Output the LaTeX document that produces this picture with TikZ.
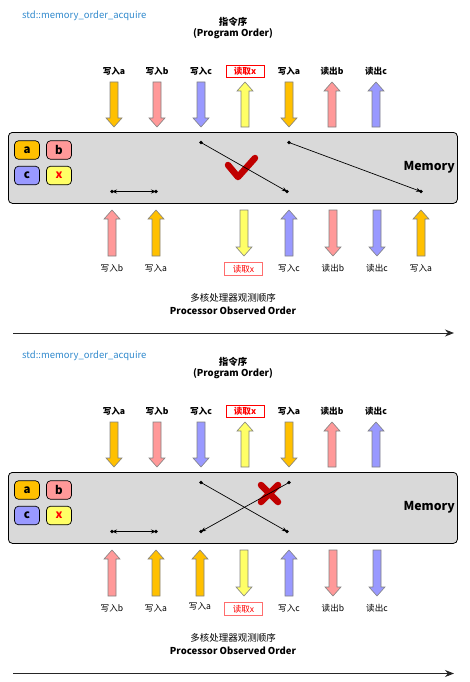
\documentclass[tikz,border=0pt]{standalone}
\usepackage{fontspec}
\setmainfont{Noto Sans CJK SC}
\usetikzlibrary{arrows.meta}
\definecolor{ca}{RGB}{255,192,0}
\definecolor{cb}{RGB}{255,153,153}
\definecolor{cc}{RGB}{153,153,255}
\definecolor{cx}{RGB}{255,255,102}
\definecolor{memfill}{RGB}{217,217,217}
\definecolor{titleblue}{RGB}{50,138,205}
\definecolor{markred}{RGB}{192,0,0}
\definecolor{boxred}{RGB}{255,0,0}
\definecolor{boxpink}{RGB}{255,110,110}
\definecolor{arrline}{RGB}{130,130,130}
% down arrow: x, ytop, ybottom, colour
\newcommand\darr[4]{\path[blockarr, fill=#4] (#1-4,#2) -- (#1+4,#2) -- (#1+4,#3-9) -- (#1+8,#3-9) -- (#1,#3) -- (#1-8,#3-9) -- (#1-4,#3-9) -- cycle;}
% up arrow: x, ytop, ybottom, colour
\newcommand\uarr[4]{\path[blockarr, fill=#4] (#1,#2) -- (#1+8,#2+9) -- (#1+4,#2+9) -- (#1+4,#3) -- (#1-4,#3) -- (#1-4,#2+9) -- (#1-8,#2+9) -- cycle;}
\tikzset{
  blockarr/.style={draw=arrline, line width=0.6pt, line join=miter},
  lab/.style={font=\fontsize{8.6}{10}\selectfont, inner sep=0pt},
  labbold/.style={lab, font=\bfseries\fontsize{8.6}{10}\selectfont},
  xlabtop/.style={labbold, text=boxred, draw=boxred, fill=white, line width=0.7pt, minimum width=38pt, minimum height=12.5pt},
  xlabbot/.style={lab, text=boxred, draw=boxpink, fill=white, line width=0.7pt, minimum width=38pt, minimum height=12.5pt},
  ttl/.style={font=\bfseries\fontsize{9.5}{11}\selectfont, inner sep=0pt},
  ttlreg/.style={font=\fontsize{9.5}{11}\selectfont, inner sep=0pt},
  std/.style={font=\fontsize{9.5}{11}\selectfont, text=titleblue, inner sep=0pt, anchor=west},
  membox/.style={draw=black, line width=0.8pt, fill=memfill, rounded corners=4pt, minimum width=449pt, minimum height=71pt, anchor=north west, inner sep=0pt},
  varbox/.style={draw=black, line width=0.7pt, rounded corners=4pt, minimum width=25pt, minimum height=18.5pt, inner sep=0pt, font=\bfseries\fontsize{11.5}{13}\selectfont},
  memlbl/.style={font=\bfseries\fontsize{12.3}{14}\selectfont, anchor=east, inner sep=0pt},
  conn/.style={line width=0.7pt, -{Stealth[length=5pt,width=4pt]}},
  dconn/.style={line width=0.7pt, {Stealth[length=5pt,width=4pt]}-{Stealth[length=5pt,width=4pt]}},
  dotfill/.style={fill=black},
  redmark/.style={draw=markred, line width=6.5pt, line cap=round, line join=round},
  timeline/.style={line width=1pt, draw=black!85, -{Stealth[length=9pt,width=7pt]}}
}
\begin{document}
\begin{tikzpicture}[x=1pt,y=-1pt]
\useasboundingbox (0,0) rectangle (469,682);
% ======================= first diagram =======================
\begin{scope}
\node[std] (s1) at (22,16) {std::memory\_order\_acquire};
\node[ttl] (t1a) at (233,21.5) {指令序};
\node[ttl] (t1b) at (233,33.5) {(Program Order)};
% program order labels
\node[labbold] (l1a) at (114,71.5) {写入a};
\node[labbold] (l1b) at (157,71.5) {写入b};
\node[labbold] (l1c) at (201,71.5) {写入c};
\node[xlabtop] (l1x) at (245,71.5) {读取x};
\node[labbold] (l1d) at (289,71.5) {写入a};
\node[labbold] (l1e) at (332,71.5) {读出b};
\node[labbold] (l1f) at (376,71.5) {读出c};
% program order arrows
\darr{114}{82}{127}{ca}
\darr{157}{82}{127}{cb}
\darr{201}{82}{127}{cc}
\uarr{245}{82}{127}{cx}
\darr{289}{82}{127}{ca}
\uarr{332}{82}{127}{cb}
\uarr{376}{82}{127}{cc}
% memory
\node[membox] (m1) at (8,132) {};
\node[varbox, fill=ca] (m1a) at (27,150) {a};
\node[varbox, fill=cb] (m1b) at (59,150) {b};
\node[varbox, fill=cc] (m1c) at (27,175.5) {c};
\node[varbox, fill=cx, text=boxred] (m1x) at (59,175.5) {x};
\node[memlbl] (m1l) at (455,167.5) {Memory};
\draw[redmark] (228,165) -- (238,177) -- (255,158);
\coordinate (p1) at (112,191.5);
\coordinate (p2) at (156,191.5);
\coordinate (q1) at (201,142.5);
\coordinate (q2) at (287,191.5);
\coordinate (r1) at (289,142.5);
\coordinate (r2) at (421,191.5);
\draw[dconn] (p1) -- (p2);
\draw[conn] (q1) -- (q2);
\draw[conn] (r1) -- (r2);
\foreach \c in {p1,p2,q1,q2,r1,r2} \fill[dotfill] (\c) circle (1.8pt);
% observed order arrows
\uarr{112}{210}{256}{cb}
\uarr{156}{210}{256}{ca}
\darr{244}{210}{256}{cx}
\uarr{289}{210}{256}{cc}
\darr{333}{210}{256}{cb}
\darr{377}{210}{256}{cc}
\uarr{421}{210}{256}{ca}
\node[lab] (o1a) at (112,268) {写入b};
\node[lab] (o1b) at (156,268) {写入a};
\node[xlabbot] (o1x) at (243.5,269) {读取x};
\node[lab] (o1c) at (289,268) {写入c};
\node[lab] (o1d) at (333,268) {读出b};
\node[lab] (o1e) at (377,268) {读出c};
\node[lab] (o1f) at (421,268) {写入a};
\node[ttlreg] (b1a) at (233,298) {多核处理器观测顺序};
\node[ttl] (b1b) at (233,311) {Processor Observed Order};
\coordinate (tl1s) at (13,333);
\coordinate (tl1e) at (454,333);
\draw[timeline] (tl1s) -- (tl1e);
\end{scope}
% ======================= second diagram =======================
\begin{scope}[shift={(0,340)}]
\node[std] (s2) at (22,16) {std::memory\_order\_acquire};
\node[ttl] (t2a) at (233,21.5) {指令序};
\node[ttl] (t2b) at (233,33.5) {(Program Order)};
\node[labbold] (l2a) at (114,71.5) {写入a};
\node[labbold] (l2b) at (157,71.5) {写入b};
\node[labbold] (l2c) at (201,71.5) {写入c};
\node[xlabtop] (l2x) at (245,71.5) {读取x};
\node[labbold] (l2d) at (289,71.5) {写入a};
\node[labbold] (l2e) at (332,71.5) {读出b};
\node[labbold] (l2f) at (376,71.5) {读出c};
\darr{114}{82}{127}{ca}
\darr{157}{82}{127}{cb}
\darr{201}{82}{127}{cc}
\uarr{245}{82}{127}{cx}
\darr{289}{82}{127}{ca}
\uarr{332}{82}{127}{cb}
\uarr{376}{82}{127}{cc}
\node[membox] (m2) at (8,132) {};
\node[varbox, fill=ca] (m2a) at (27,150) {a};
\node[varbox, fill=cb] (m2b) at (59,150) {b};
\node[varbox, fill=cc] (m2c) at (27,175.5) {c};
\node[varbox, fill=cx, text=boxred] (m2x) at (59,175.5) {x};
\node[memlbl] (m2l) at (455,167.5) {Memory};
\draw[redmark] (261,145) -- (278,162) (278,145) -- (261,162);
\coordinate (u1) at (112,191.5);
\coordinate (u2) at (156,191.5);
\coordinate (v1) at (201,142.5);
\coordinate (v2) at (287,191.5);
\coordinate (w1) at (289,142.5);
\coordinate (w2) at (201,191.5);
\draw[dconn] (u1) -- (u2);
\draw[conn] (v1) -- (v2);
\draw[conn] (w1) -- (w2);
\foreach \c in {u1,u2,v1,v2,w1,w2} \fill[dotfill] (\c) circle (1.8pt);
\uarr{112}{210}{256}{cb}
\uarr{156}{210}{256}{ca}
\uarr{200}{210}{256}{ca}
\darr{244}{210}{256}{cx}
\uarr{289}{210}{256}{cc}
\darr{333}{210}{256}{cb}
\darr{377}{210}{256}{cc}
\node[lab] (o2a) at (112,268) {写入b};
\node[lab] (o2b) at (156,268) {写入a};
\node[lab] (o2g) at (200,266.5) {写入a};
\node[xlabbot] (o2x) at (243.5,269) {读取x};
\node[lab] (o2c) at (289,268) {写入c};
\node[lab] (o2d) at (333,268) {读出b};
\node[lab] (o2e) at (377,268) {读出c};
\node[ttlreg] (b2a) at (233,298) {多核处理器观测顺序};
\node[ttl] (b2b) at (233,311) {Processor Observed Order};
\coordinate (tl2s) at (13,333.5);
\coordinate (tl2e) at (454,333.5);
\draw[timeline] (tl2s) -- (tl2e);
\end{scope}
\end{tikzpicture}
\end{document}
